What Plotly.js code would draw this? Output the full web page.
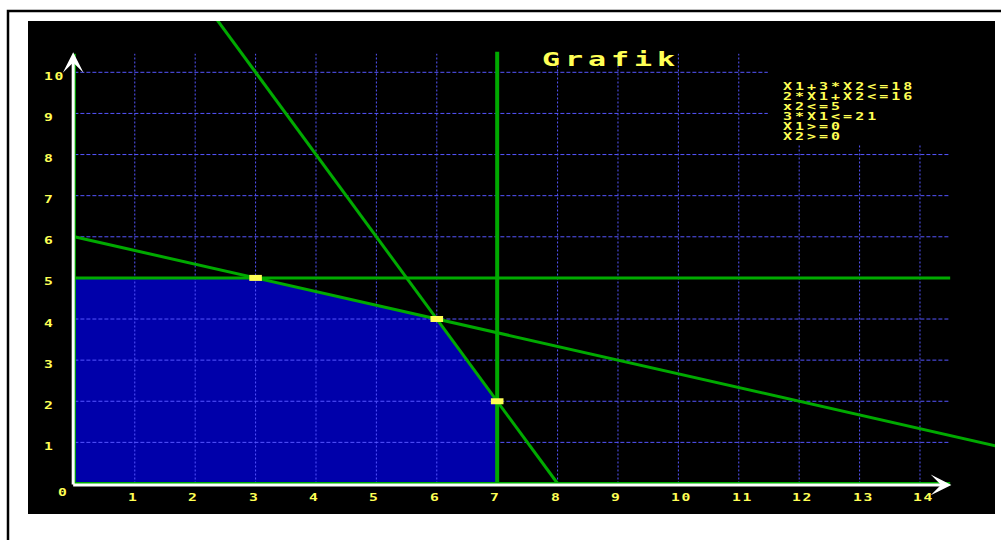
<!DOCTYPE html>
<html><head><meta charset="utf-8">
<script src="https://cdn.plot.ly/plotly-3.0.1.min.js"></script>
<style>body{margin:0;background:#fff}#chart{width:1001px;height:540px}</style>
</head><body><div id="chart"></div>
<script>
// ---- data ----
const xTicks = [1,2,3,4,5,6,7,8,9,10,11,12,13,14];
const xTickLabels = ['1','2','3','4','5','6','7','8','9','10','11','12','13','14'];
const yTicks = [1,2,3,4,5,6,7,8,9,10];
const yTickLabels = ['1','2','3','4','5','6','7','8','9','10'];
const originLabel = '0';
const titleText = 'Grafik';
const constraintLabels = ['X1+3*X2<=18','2*X1+X2<=16','x2<=5','3*X1<=21','X1>=0','X2>=0'];
// constraint lines (endpoints)
const c1X = [0, 18],   c1Y = [6, 0];      // x1+3x2=18
const c2X = [0, 8],    c2Y = [16, 0];     // 2x1+x2=16
const c3X = [0, 14.5], c3Y = [5, 5];      // x2=5
const c4X = [7, 7],    c4Y = [0, 10.5];   // 3x1=21
const c5X = [0, 0],    c5Y = [0, 10.45];  // x1=0
const c6X = [0, 14.5], c6Y = [0, 0];      // x2=0
// feasible region and vertices
const regionX = [0, 0, 3, 6, 7, 7];
const regionY = [0, 5, 5, 4, 2, 0];
const vertexX = [3, 6, 7];
const vertexY = [5, 4, 2];
// grid extents
const gridTop = 10.45, gridRight = 14.5;

// ---- colours ----
const GREEN = '#00aa00', BLUE = '#0000aa', YELLOW = '#ffff55', GRID = '#5555ff';
const FONT = 'DejaVu Sans Mono';

// grid traces
const vgx = [], vgy = [];
xTicks.forEach(t => { vgx.push(t, t, null); vgy.push(0, gridTop, null); });
const hgx = [], hgy = [];
yTicks.forEach(t => { hgx.push(0, gridRight, null); hgy.push(t, t, null); });

function gline(x, y, w) {
  return {x, y, type: 'scatter', mode: 'lines', line: {color: GREEN, width: w}, hoverinfo: 'skip'};
}

const traces = [
  {x: regionX, y: regionY, type: 'scatter', mode: 'none', fill: 'toself', fillcolor: BLUE, hoverinfo: 'skip'},
  {x: vgx, y: vgy, type: 'scatter', mode: 'lines', line: {color: GRID, width: 1, dash: '2px,2px'}, hoverinfo: 'skip'},
  {x: hgx, y: hgy, type: 'scatter', mode: 'lines', line: {color: GRID, width: 1, dash: '4px,2px'}, hoverinfo: 'skip'},
  gline(c1X, c1Y, 3), gline(c2X, c2Y, 3), gline(c3X, c3Y, 3), gline(c4X, c4Y, 4),
  gline(c5X, c5Y, 3), gline(c6X, c6Y, 3),
  {x: vertexX, y: vertexY, type: 'scatter', mode: 'markers',
   marker: {symbol: 'line-ew', size: 9, color: YELLOW, line: {width: 6, color: YELLOW}}, hoverinfo: 'skip'}
];

const annotations = [];
const annStyle = [];   // [scaleX, letterSpacing]
function txt(o, size, sx, ls) {
  annotations.push(Object.assign({showarrow: false, align: 'left', xanchor: 'left', yanchor: 'middle',
    borderpad: 0, borderwidth: 0,
    font: {family: FONT, size: size, color: YELLOW, weight: 'bold'}}, o));
  annStyle.push([sx, ls]);
}
xTicks.forEach((t, i) => txt({x: t, y: 0, xref: 'x', yref: 'y', text: xTickLabels[i], xshift: -7, yshift: -13.5}, 10.5, 1.4, 1.2));
yTicks.forEach((t, i) => txt({x: 0, y: t, xref: 'x', yref: 'y', text: yTickLabels[i], xshift: -30.4, yshift: -3.5}, 10.5, 1.4, 1.2));
txt({x: 0, y: 0, xref: 'x', yref: 'y', text: originLabel, xshift: -16.4, yshift: -8.5}, 10.5, 1.4, 1.2);
constraintLabels.forEach((s, i) => txt({x: (783 - 28) / 967, y: (514 - (86.5 + 10.05 * i)) / 493, xref: 'paper', yref: 'paper', text: s}, 10, 1.5, 2));

// axis arrows
const arrowBase = {xref: 'x', yref: 'y', axref: 'x', ayref: 'y', showarrow: true, arrowhead: 3,
  arrowwidth: 3, arrowsize: 1.15, arrowcolor: '#ffffff', text: '', standoff: 0};
annotations.push(Object.assign({}, arrowBase, {x: -0.02, y: 10.49, ax: -0.02, ay: -0.06}));
annStyle.push(null);
annotations.push(Object.assign({}, arrowBase, {x: 14.52, y: -0.035, ax: -0.045, ay: -0.035}));
annStyle.push(null);

const layout = {
  width: 1001, height: 540, autosize: false,
  margin: {l: 28, r: 6, t: 21, b: 26, pad: 0},
  paper_bgcolor: '#ffffff', plot_bgcolor: '#000000',
  showlegend: false, hovermode: false,
  title: {text: titleText, xref: 'container', yref: 'container', x: 542 / 1001, xanchor: 'left',
    y: 1 - 59.5 / 540, yanchor: 'middle', font: {family: FONT, size: 20, color: YELLOW, weight: 'bold'}},
  xaxis: {range: [-0.768, 15.242], showgrid: false, zeroline: false, showticklabels: false, ticks: '', showline: false, fixedrange: true},
  yaxis: {range: [-0.742, 11.248], showgrid: false, zeroline: false, showticklabels: false, ticks: '', showline: false, fixedrange: true},
  shapes: [
    {type: 'rect', xref: 'x', yref: 'y', x0: 11.48, x1: 14.6, y0: 8.23, y1: 10.6, fillcolor: '#000000', line: {width: 0}, layer: 'above'},
    {type: 'rect', xref: 'paper', yref: 'paper', x0: (8 - 28) / 967, x1: 1.2, y0: -0.2, y1: (514 - 11) / 493, fillcolor: 'rgba(0,0,0,0)', line: {color: '#000000', width: 2.5}, layer: 'above'}
  ],
  annotations: annotations
};

function widen(t, sx, ls) {
  if (!t) return;
  if (ls) t.style.letterSpacing = ls + 'px';
  const x0 = parseFloat(t.getAttribute('x')) || 0;
  t.setAttribute('transform', 'translate(' + x0 + ',0) scale(' + sx + ',1) translate(' + (-x0) + ',0)');
}

Plotly.newPlot('chart', traces, layout, {displayModeBar: false, staticPlot: true}).then(() => {
  document.querySelectorAll('g.annotation').forEach(g => {
    const i = +g.getAttribute('data-index');
    const st = annStyle[i];
    if (st) widen(g.querySelector('.annotation-text'), st[0], st[1]);
  });
  widen(document.querySelector('.gtitle'), 1.5, 3.3);
});
</script>
</body></html>
